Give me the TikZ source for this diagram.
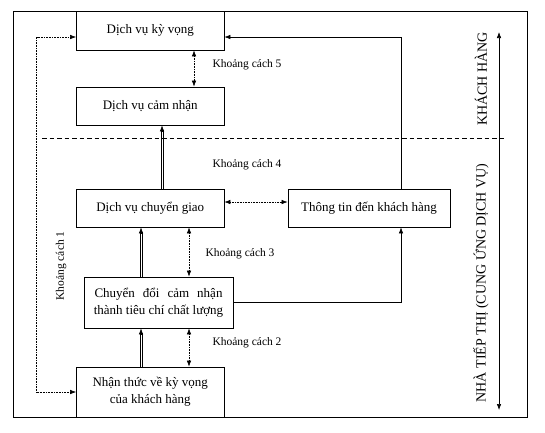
\documentclass[tikz,border=0pt]{standalone}
\usepackage{fontspec}
\setmainfont{Liberation Serif}
\usetikzlibrary{arrows.meta,positioning}

\tikzset{
  box/.style={rectangle, draw, line width=0.8pt, inner sep=0pt, minimum width=147.5pt, minimum height=38pt, align=center, font=\fontsize{13}{17}\selectfont},
  gap/.style={inner sep=0pt, font=\fontsize{11.5}{13}\selectfont},
  side/.style={inner sep=0pt, rotate=90, font=\fontsize{14}{16}\selectfont},
  dots/.style={<->, line width=0.6pt, dash pattern=on 0.8pt off 0.8pt},
  rail/.style={line width=0.6pt, shorten >=5pt},
  solid line/.style={->, line width=0.6pt},
}

\begin{document}
\begin{tikzpicture}[x=1pt, y=-1pt, >={Latex[length=6pt,width=4.5pt]}]
                    \useasboundingbox (0,0) rectangle (545,432);
                    \draw[line width=0.8pt] (13,11) rectangle (527,417);

                    \node [box](1) at (150.25,30.5) [minimum height=39pt]{Dịch vụ kỳ vọng};
                    \node [box](2) [node distance=75.5pt, below of = 1]{Dịch vụ cảm nhận};
                    \node [box](3) [node distance=102pt, below of = 2]{Dịch vụ chuyển giao};
                    \node [box](4) [node distance=218.75pt, right of = 3, minimum width=162pt]{Thông tin đến khách hàng};
                    \node [box](5) [node distance=94.5pt, below of = 3, xshift=8.25pt, minimum width=149pt, minimum height=51pt]{\makebox[128pt][s]{Chuyển đổi cảm nhận}\\thành tiêu chí chất lượng};
                    \node [box](6) [node distance=89.5pt, below of = 5, xshift=-8.25pt, minimum height=50pt]{Nhận thức về kỳ vọng\\của khách hàng};

                    \coordinate (ya) at (0,37);
                    \coordinate (yb) at (0,202);
                    \coordinate (xl) at (36.5,0);
                    \coordinate (xa) at (194,0);
                    \coordinate (xb) at (162,0);
                    \coordinate (xc) at (141,0);
                    \coordinate (xd) at (189,0);
                    \coordinate (xe) at (401,0);
                    \coordinate (dl) at (42,138.5);
                    \coordinate (dr) at (506,138.5);
                    \coordinate (ru) at (499,32);
                    \coordinate (rd) at (499,410);

                    % khoang cach
                    \node [gap](k5) at (247,65){Khoảng cách 5};
                    \node [gap](k4) at (247,165){Khoảng cách 4};
                    \node [gap](k3) at (240,254){Khoảng cách 3};
                    \node [gap](k2) at (247,343){Khoảng cách 2};
                    \node [gap, rotate=90](k1) at (61,266){Khoảng cách 1};

                    \node [side](kh) at (481,79){KHÁCH HÀNG};
                    \node [side](nt) at (481,283){NHÀ TIẾP THỊ (CUNG ỨNG DỊCH VỤ)};

                    \draw[line width=1.1pt, dash pattern=on 4.5pt off 3pt] (dl) -- (dr);
                    \draw[solid line, <->] (ru) -- (rd);

                    \draw[dots] (1.west |- ya) -- (xl |- ya) -- (xl |- 6.west) -- (6.west);
                    \draw[solid line] (xe |- 4.north) -- (xe |- ya) -- (1.east |- ya);
                    \draw[solid line] (5.east) -- (xe |- 5.east) -- (xe |- 4.south);

                    % double lines: two rails and a tip
                    \draw[rail, transform canvas={xshift=-1pt}] (xb |- 3.north) -- (xb |- 2.south);
                    \draw[rail, transform canvas={xshift=1pt}] (xb |- 3.north) -- (xb |- 2.south);
                    \draw[solid line, shorten <=58pt] (xb |- 3.north) -- (xb |- 2.south);

                    \draw[rail, transform canvas={xshift=-1pt}] (xc |- 5.north) -- (xc |- 3.south);
                    \draw[rail, transform canvas={xshift=1pt}] (xc |- 5.north) -- (xc |- 3.south);
                    \draw[solid line, shorten <=44pt] (xc |- 5.north) -- (xc |- 3.south);

                    \draw[rail, transform canvas={xshift=-1pt}] (xc |- 6.north) -- (xc |- 5.south);
                    \draw[rail, transform canvas={xshift=1pt}] (xc |- 6.north) -- (xc |- 5.south);
                    \draw[solid line, shorten <=33pt] (xc |- 6.north) -- (xc |- 5.south);

                    \path
                        (xa |- 1.south) edge[dots] (xa |- 2.north)
                        (3.east |- yb) edge[dots] (4.west |- yb)
                        (xd |- 3.south) edge[dots] (xd |- 5.north)
                        (xd |- 5.south) edge[dots] (xd |- 6.north)
                    ;

                \end{tikzpicture}
\end{document}
